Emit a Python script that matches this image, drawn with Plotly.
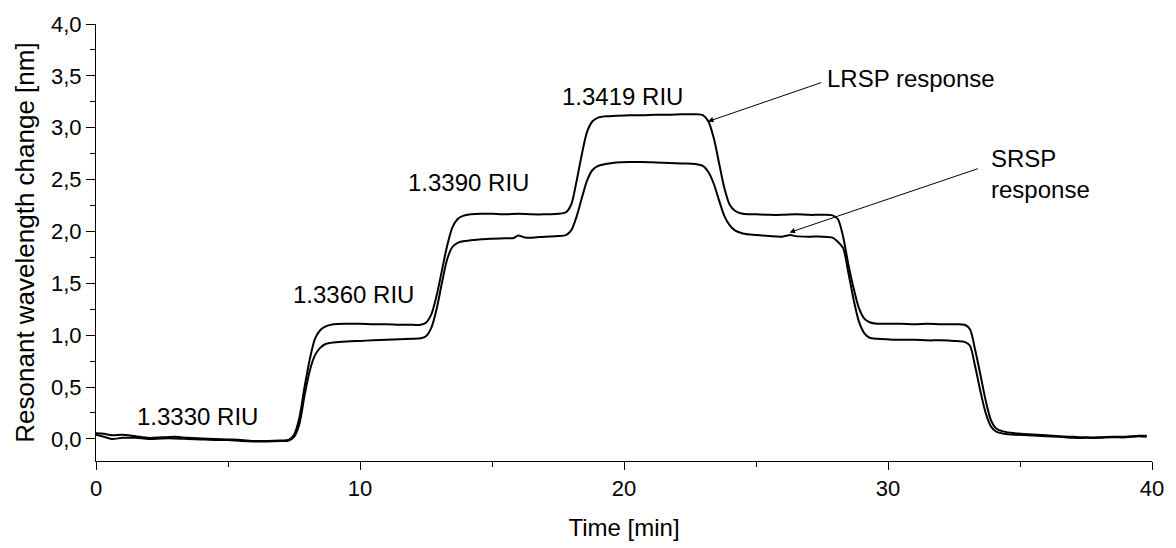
import plotly.graph_objects as go

# Time axis (minutes) and the two resonance-shift traces (nm)
time_lrsp = [0, 0.3, 0.6, 1.0, 1.5, 2.0, 2.5, 3.0, 3.5, 4.0, 4.5, 5.0, 5.5, 6.0, 6.5, 7.0,
             7.3, 7.5, 7.7, 7.9, 8.1, 8.3, 8.5, 8.7, 9.0, 9.5, 10, 10.5, 11, 11.5, 12, 12.3,
             12.5, 12.7, 12.9, 13.1, 13.3, 13.5, 13.7, 13.9, 14.2, 14.6, 15, 15.5, 16, 16.5,
             17, 17.5, 17.8, 18.0, 18.2, 18.4, 18.6, 18.8, 19.0, 19.3, 19.7, 20.2, 20.7, 21.2,
             21.7, 22.2, 22.7, 23.0, 23.2, 23.4, 23.6, 23.8, 24.0, 24.2, 24.5, 25, 25.5, 26,
             26.5, 27, 27.5, 27.9, 28.1, 28.3, 28.5, 28.7, 28.9, 29.1, 29.3, 29.6, 30, 30.5,
             31, 31.5, 32, 32.5, 32.9, 33.1, 33.3, 33.5, 33.7, 33.9, 34.1, 34.4, 34.8, 35.3,
             36, 36.5, 37, 37.5, 38, 38.5, 39, 39.5, 39.8]
lrsp = [0.055, 0.05, 0.035, 0.04, 0.025, 0.01, 0.015, 0.02, 0.01, 0.005, 0.0, -0.005, -0.01,
        -0.02, -0.02, -0.015, -0.01, 0.04, 0.2, 0.5, 0.77, 0.97, 1.05, 1.085, 1.105, 1.11,
        1.11, 1.105, 1.105, 1.1, 1.1, 1.1, 1.12, 1.2, 1.38, 1.62, 1.86, 2.04, 2.12, 2.15,
        2.165, 2.17, 2.17, 2.165, 2.17, 2.165, 2.165, 2.17, 2.185, 2.26, 2.48, 2.74, 2.96,
        3.06, 3.095, 3.11, 3.115, 3.12, 3.12, 3.125, 3.125, 3.13, 3.13, 3.12, 3.06, 2.9,
        2.66, 2.42, 2.26, 2.2, 2.17, 2.165, 2.16, 2.16, 2.165, 2.16, 2.16, 2.155, 2.12,
        1.95, 1.68, 1.45, 1.26, 1.16, 1.125, 1.11, 1.11, 1.11, 1.105, 1.11, 1.105, 1.105,
        1.1, 1.06, 0.86, 0.62, 0.37, 0.18, 0.1, 0.07, 0.055, 0.045, 0.035, 0.025, 0.02,
        0.015, 0.015, 0.02, 0.02, 0.03, 0.03]

time_srsp = [0, 0.3, 0.6, 1.0, 1.5, 2.0, 2.5, 3.0, 3.5, 4.0, 4.5, 5.0, 5.5, 6.0, 6.5, 7.0,
             7.3, 7.5, 7.7, 7.9, 8.1, 8.3, 8.5, 8.7, 9.0, 9.5, 10, 10.5, 11, 11.5, 12, 12.3,
             12.5, 12.7, 12.9, 13.1, 13.3, 13.5, 13.7, 13.9, 14.2, 14.6, 15, 15.5, 15.8, 16.0,
             16.2, 16.5, 17, 17.5, 17.8, 18.0, 18.2, 18.4, 18.6, 18.8, 19.0, 19.3, 19.7, 20.2,
             20.7, 21.2, 21.7, 22.2, 22.7, 23.0, 23.2, 23.4, 23.6, 23.8, 24.0, 24.2, 24.5, 25,
             25.5, 26, 26.3, 26.5, 27, 27.5, 27.9, 28.1, 28.3, 28.5, 28.7, 28.9, 29.1, 29.3,
             29.6, 30, 30.5, 31, 31.5, 32, 32.5, 32.9, 33.1, 33.3, 33.5, 33.7, 33.9, 34.1, 34.4,
             34.8, 35.3, 36, 36.5, 37, 37.5, 38, 38.5, 39, 39.5, 39.8]
srsp = [0.04, 0.02, 0.0, 0.01, 0.01, 0.0, 0.005, 0.005, 0.0, -0.005, -0.01, -0.01, -0.02,
        -0.025, -0.025, -0.02, -0.015, 0.02, 0.14, 0.42, 0.66, 0.81, 0.88, 0.915, 0.93, 0.94,
        0.945, 0.95, 0.955, 0.96, 0.965, 0.97, 0.99, 1.07, 1.25, 1.5, 1.73, 1.85, 1.89, 1.905,
        1.915, 1.925, 1.93, 1.935, 1.935, 1.96, 1.945, 1.94, 1.95, 1.955, 1.965, 2.01, 2.14,
        2.32, 2.49, 2.59, 2.63, 2.65, 2.665, 2.67, 2.67, 2.665, 2.66, 2.655, 2.65, 2.63, 2.57,
        2.46, 2.3, 2.15, 2.06, 2.01, 1.98, 1.965, 1.955, 1.95, 1.965, 1.955, 1.95, 1.95, 1.94,
        1.9, 1.84, 1.6, 1.34, 1.13, 1.02, 0.975, 0.965, 0.96, 0.955, 0.955, 0.95, 0.95, 0.945,
        0.935, 0.9, 0.7, 0.46, 0.25, 0.12, 0.07, 0.05, 0.04, 0.035, 0.025, 0.02, 0.01, 0.01,
        0.01, 0.015, 0.015, 0.025, 0.02]

# Refractive-index labels: text, time position, shift position
riu_labels = ["1.3330 RIU", "1.3360 RIU", "1.3390 RIU", "1.3419 RIU"]
riu_x = [3.83, 9.75, 14.1, 19.96]
riu_y = [0.216, 1.39, 2.47, 3.30]

FONT = "Liberation Sans, Arial, sans-serif"
TICK_FS = 22
TEXT_FS = 24
YTITLE_FS = 26

fig = go.Figure()
for t, v in ((time_lrsp, lrsp), (time_srsp, srsp)):
    fig.add_trace(go.Scatter(
        x=t, y=v, mode="lines",
        line=dict(color="black", width=2, shape="spline", smoothing=0.8),
        showlegend=False, hoverinfo="skip",
    ))

for txt, xx, yy in zip(riu_labels, riu_x, riu_y):
    fig.add_annotation(x=xx, y=yy, text=txt, showarrow=False,
                       font=dict(family=FONT, size=TEXT_FS, color="black"))

# Arrowed callouts pointing at each trace
fig.add_annotation(x=23.18, y=3.06, ax=27.53, ay=3.44, axref="x", ayref="y",
                   text="", showarrow=True, arrowhead=2, arrowsize=1.1,
                   arrowwidth=1, arrowcolor="black")
fig.add_annotation(x=27.6, y=3.47, text="LRSP response", showarrow=False,
                   xanchor="left", font=dict(family=FONT, size=TEXT_FS, color="black"))
fig.add_annotation(x=26.27, y=1.99, ax=33.46, ay=2.61, axref="x", ayref="y",
                   text="", showarrow=True, arrowhead=2, arrowsize=1.1,
                   arrowwidth=1, arrowcolor="black")
fig.add_annotation(x=33.83, y=2.55, text="SRSP<br>response", showarrow=False,
                   xanchor="left", align="left",
                   font=dict(family=FONT, size=TEXT_FS, color="black"))

axis_common = dict(
    showline=True, linecolor="black", linewidth=1, showgrid=False, zeroline=False,
    ticks="outside", tickcolor="black", tickwidth=1,
    tickfont=dict(family=FONT, size=TICK_FS, color="black"),
)
fig.update_xaxes(
    range=[0, 40], tickvals=[0, 10, 20, 30, 40], ticklen=8,
    minor=dict(tickvals=[5, 15, 25, 35], ticklen=5, ticks="outside", tickcolor="black"),
    title=dict(text="Time [min]", font=dict(family=FONT, size=TEXT_FS, color="black"),
               standoff=18),
    **axis_common,
)
fig.update_yaxes(
    range=[-0.213, 4.0], dtick=0.5, tick0=0, tickformat=".1f", ticklen=9,
    minor=dict(dtick=0.25, tick0=0, ticklen=5, ticks="outside", tickcolor="black"),
    title=dict(text="Resonant wavelength change [nm]",
               font=dict(family=FONT, size=YTITLE_FS, color="black"), standoff=8),
    **axis_common,
)
fig.update_layout(
    width=1176, height=548, separators=",.",
    margin=dict(l=96, r=23, t=19, b=80),
    plot_bgcolor="white", paper_bgcolor="white",
)
fig.write_html("out.html")
